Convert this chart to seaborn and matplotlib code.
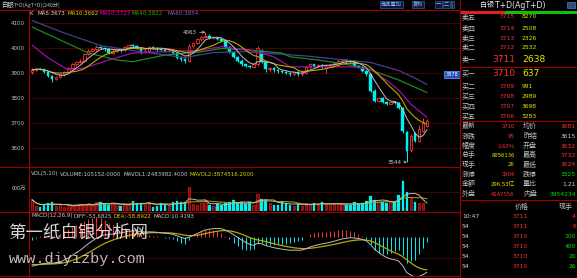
import numpy as np
import pandas as pd
import matplotlib
matplotlib.use("Agg")
import matplotlib.pyplot as plt
from matplotlib.patches import Rectangle
import seaborn as sns

# ---------------- data ----------------
opens = [3905, 3912, 3918, 3915, 3905, 3890, 3878, 3885, 3895, 3905,
         3920, 3935, 3945, 3950, 3978, 3990, 3995, 4005, 4000, 3998,
         3980, 3990, 3995, 3992, 4005, 4012, 4008, 4000, 3985, 3990,
         4005, 4000, 3995, 3992, 3990, 3992, 3980, 3962, 3955, 3950,
         4010, 4020, 4035, 4045, 4050, 4040, 4042, 4038, 4030, 4005,
         3985, 3965, 3950, 3935, 3930, 3925, 3935, 3990, 3945, 3915,
         3920, 3912, 3910, 3905, 3900, 3898, 3905, 3895, 3900, 3925,
         3935, 3930, 3932, 3920, 3930, 3935, 3940, 3950, 3952, 3948,
         3945, 3930, 3925, 3910, 3895, 3830, 3790, 3800, 3785, 3778,
         3785, 3780, 3760, 3665, 3592, 3660, 3630, 3670, 3690]
highs = [3920, 3922, 3922, 3918, 3908, 3892, 3890, 3898, 3908, 3925,
         3940, 3950, 3955, 3982, 3995, 4000, 4012, 4010, 4005, 4000,
         3995, 4000, 3998, 4010, 4018, 4015, 4012, 4002, 3995, 4010,
         4008, 4003, 3998, 3995, 3998, 3995, 3982, 3965, 3960, 4015,
         4025, 4040, 4050, 4063, 4055, 4048, 4045, 4040, 4032, 4008,
         3988, 3968, 3955, 3938, 3933, 3940, 4010, 3995, 3948, 3925,
         3924, 3916, 3914, 3908, 3904, 3910, 3908, 3905, 3930, 3940,
         3938, 3936, 3935, 3935, 3938, 3945, 3955, 3958, 3955, 3950,
         3948, 3933, 3928, 3912, 3898, 3835, 3805, 3803, 3790, 3790,
         3790, 3785, 3765, 3668, 3655, 3664, 3692, 3720, 3715]
lows = [3895, 3908, 3912, 3900, 3885, 3865, 3872, 3880, 3890, 3900,
        3915, 3930, 3940, 3945, 3972, 3985, 3990, 3995, 3990, 3975,
        3975, 3985, 3985, 3988, 4000, 4002, 3995, 3978, 3980, 3985,
        3995, 3990, 3988, 3985, 3985, 3975, 3955, 3948, 3940, 3945,
        4005, 4015, 4030, 4040, 4035, 4035, 4032, 4025, 4000, 3980,
        3960, 3945, 3930, 3925, 3920, 3920, 3930, 3940, 3905, 3910,
        3905, 3902, 3900, 3895, 3890, 3892, 3890, 3890, 3895, 3920,
        3925, 3925, 3922, 3900, 3925, 3930, 3935, 3945, 3942, 3940,
        3925, 3920, 3905, 3890, 3825, 3785, 3785, 3780, 3772, 3775,
        3778, 3758, 3660, 3544, 3585, 3624, 3624, 3664, 3685]
closes = [3912, 3918, 3915, 3905, 3890, 3878, 3885, 3895, 3905, 3920,
          3935, 3945, 3950, 3978, 3990, 3995, 4005, 4000, 3998, 3980,
          3990, 3995, 3992, 4005, 4012, 4008, 4000, 3985, 3990, 4005,
          4000, 3995, 3992, 3990, 3992, 3980, 3962, 3955, 3950, 4010,
          4020, 4035, 4045, 4050, 4040, 4042, 4038, 4030, 4005, 3985,
          3965, 3950, 3935, 3930, 3925, 3935, 4000, 3945, 3915, 3920,
          3912, 3910, 3905, 3900, 3898, 3905, 3895, 3900, 3925, 3935,
          3930, 3932, 3928, 3930, 3935, 3940, 3950, 3952, 3948, 3945,
          3930, 3925, 3910, 3895, 3830, 3790, 3800, 3785, 3778, 3785,
          3782, 3762, 3670, 3590, 3650, 3630, 3675, 3700, 3710]
volumes_m = [3.6, 1.5, 1.2, 2.0, 2.5, 2.8, 1.6, 1.8, 1.2, 2.2,
             1.5, 2.0, 2.3, 1.8, 2.5, 1.6, 2.8, 3.0, 2.2, 1.9,
             2.6, 2.4, 1.5, 2.0, 1.8, 3.1, 2.5, 2.6, 2.0, 3.0,
             1.4, 1.7, 2.5, 2.0, 1.6, 2.8, 3.2, 2.7, 2.9, 7.6,
             2.2, 1.8, 2.6, 3.4, 2.0, 1.5, 2.2, 1.8, 2.4, 2.9,
             3.5, 2.6, 2.8, 2.4, 3.0, 2.0, 5.5, 3.8, 3.6, 2.5,
             2.0, 1.8, 3.1, 2.4, 2.0, 1.6, 2.3, 1.7, 2.6, 1.8,
             2.5, 2.0, 3.0, 2.2, 1.8, 2.6, 2.1, 2.4, 2.0, 1.9,
             2.8, 2.2, 2.5, 3.2, 4.8, 3.4, 2.9, 3.0, 2.6, 2.8,
             2.8, 5.2, 9.5, 6.0, 4.2, 3.0, 2.6, 2.5, 0.105]

ma20_i = [0, 4, 9, 13, 19, 25, 33, 42, 47, 54, 60, 64, 72, 79, 84, 88, 91, 94, 98]
ma20_v = [4012, 3960, 3912, 3920, 3952, 3980, 3985, 3992, 4005, 3992, 3965, 3925, 3925, 3925, 3915, 3870, 3832, 3775, 3723]
ma40_i = [0, 7, 14, 21, 25, 33, 42, 47, 54, 62, 64, 71, 79, 84, 91, 98]
ma40_v = [4084, 4032, 3980, 3952, 3945, 3972, 3985, 3998, 3992, 3980, 3965, 3952, 3932, 3912, 3872, 3822]
ma60_i = [0, 8, 17, 27, 33, 38, 45, 53, 62, 68, 76, 84, 91, 95, 98]
ma60_v = [4110, 4060, 4010, 3985, 3972, 3962, 3982, 3985, 3975, 3968, 3955, 3942, 3910, 3880, 3854]

ema_seeds = {"ema12": 3950.0, "ema26": 4005.0, "dea": -50.0}

price_ticks = [3600, 3700, 3800, 3900, 4000, 4100]
high_mark, low_mark = "4063", "3544"

ma_legend = [("K", "#c8c8c8", 30), ("MA5:3673", "#d8d8d8", 38), ("MA10:3662", "#d8d800", 67),
             ("MA20:3723", "#e000e0", 100), ("MA40:3822", "#00c000", 132), ("MA60:3854", "#6a6ae0", 167)]
vol_legend = [("VOL(5,10)", "#c8c8c8", 31), ("VOLUME:105152.0000", "#c8c8c8", 60),
              ("MAVOL1:2483982.4000", "#c8c8c8", 123), ("MAVOL2:3874516.2000", "#d8d800", 189)]
macd_legend = [("MACD(12,26,9)", "#c8c8c8", 31), ("DIFF:-53.6825", "#c8c8c8", 73),
               ("DEA:-58.8922", "#d8d800", 113), ("MACD:10.4193", "#c8c8c8", 153)]

ask_labels = ["卖五", "卖四", "卖三", "卖二", "卖一"]
ask_prices = ["3715", "3714", "3713", "3712", "3711"]
ask_vols = ["8270", "2508", "2326", "2532", "2638"]
bid_labels = ["买一", "买二", "买三", "买四", "买五"]
bid_prices = ["3710", "3709", "3708", "3707", "3706"]
bid_vols = ["637", "991", "2989", "3698", "3283"]

stat_l_labels = ["最新", "涨跌", "幅度", "总手", "现手", "涨停", "金额", "外盘"]
stat_l_values = ["3710", "95", "2.63%", "8056136", "26", "3904", "296.53亿", "4147556"]
stat_l_colors = ["#ff3232", "#ff3232", "#ff3232", "#e8e800", "#e8e800", "#ff3232", "#e8e800", "#ff3232"]
stat_r_labels = ["均价", "昨结", "开盘", "最高", "最低", "跌停", "量比", "内盘"]
stat_r_values = ["3681", "3615", "3632", "3732", "3624", "3325", "1.21", "3954234"]
stat_r_colors = ["#ff3232", "#d0d0d0", "#ff3232", "#ff3232", "#ff3232", "#00e000", "#d0d0d0", "#00e000"]

trade_times = ["10:47", "54", "54", "54", "54", "54"]
trade_prices = ["3711", "3711", "3710", "3710", "3710", "3710"]
trade_vols = ["4", "6", "100", "400", "20", "26"]
trade_colors = ["#ff3232", "#ff3232", "#00e000", "#00e000", "#00e000", "#00e000"]

# ---------------- style ----------------
sns.set_theme(style="dark")
plt.rcParams['font.family'] = ['DejaVu Sans']
CJK = ['Noto Sans CJK SC', 'DejaVu Sans']
RED = "#ff3232"
CYAN = "#00f0f0"
FRAME = "#a00000"
GRID = "#4a0000"
GRAY = "#c0c0c0"

W, H = 577, 278
fig = plt.figure(figsize=(W / 100, H / 100), dpi=100, facecolor="black")


def px_axes(x0, y0, x1, y1, z=1):
    a = fig.add_axes([x0 / W, 1 - y1 / H, (x1 - x0) / W, (y1 - y0) / H], zorder=z)
    a.set_facecolor("black")
    a.grid(False)
    for s in a.spines.values():
        s.set_visible(False)
    a.set_xticks([])
    a.set_yticks([])
    a.set_xlabel("")
    a.set_ylabel("")
    return a


df = pd.DataFrame({"i": np.arange(len(closes)), "open": opens, "high": highs,
                   "low": lows, "close": closes, "vol": volumes_m})
df["dir"] = np.where(df["close"] >= df["open"], "up", "down")
df["ma5"] = df["close"].rolling(5, min_periods=1).mean()
df["ma10"] = df["close"].rolling(10, min_periods=1).mean()
df["mavol5"] = df["vol"].rolling(5, min_periods=1).mean()
df["mavol10"] = df["vol"].rolling(10, min_periods=1).mean()

e12, e26, dea = ema_seeds["ema12"], ema_seeds["ema26"], ema_seeds["dea"]
diffs, deas = [], []
for c in closes:
    e12 = e12 + 2 / 13 * (c - e12)
    e26 = e26 + 2 / 27 * (c - e26)
    d = e12 - e26
    dea = dea + 2 / 10 * (d - dea)
    diffs.append(d)
    deas.append(dea)
df["diff"] = diffs
df["dea"] = deas
df["macd"] = 2 * (df["diff"] - df["dea"])

SP = 4.03
XL = (-3 / SP, -3 / SP + 431 / SP)

# ---------------- main candle panel ----------------
ax = px_axes(29, 10, 460, 167)
ax.set_xlim(*XL)
ax.set_ylim(3524, 4152)
for t in price_ticks:
    ax.axhline(t, color=GRID, lw=0.7, zorder=0)
ax.set_yticks(price_ticks)
ax.set_yticklabels([str(t) for t in price_ticks])
ax.tick_params(axis="y", length=0, pad=3, labelsize=4.0, labelcolor=GRAY)

for r in df.itertuples():
    col = RED if r.dir == "up" else CYAN
    ax.vlines(r.i, r.low, r.high, color=col, lw=0.7, zorder=2)
    lo, hi = min(r.open, r.close), max(r.open, r.close)
    h = max(hi - lo, 1.0)
    if r.dir == "up":
        ax.add_patch(Rectangle((r.i - 0.32, lo), 0.64, h, facecolor="black", edgecolor=col, lw=0.6, zorder=3))
    else:
        ax.add_patch(Rectangle((r.i - 0.32, lo), 0.64, h, facecolor=col, edgecolor=col, lw=0.3, zorder=3))

sns.lineplot(x=ma60_i, y=ma60_v, color="#42428e", lw=0.9, ax=ax, zorder=4)
sns.lineplot(x=ma40_i, y=ma40_v, color="#1c8a1c", lw=0.9, ax=ax, zorder=4)
sns.lineplot(x=ma20_i, y=ma20_v, color="#a010a0", lw=0.9, ax=ax, zorder=4)
sns.lineplot(data=df, x="i", y="ma10", color="#b8a800", lw=0.8, ax=ax, zorder=5)
sns.lineplot(data=df, x="i", y="ma5", color="#bdbdbd", lw=0.7, ax=ax, zorder=5)
ax.set_xlim(*XL)
ax.set_ylim(3524, 4152)
ax.set_xlabel("")
ax.set_ylabel("")
ax.set_xticks([])

ih = int(np.argmax(highs))
il = int(np.argmin(lows))
arrow = dict(arrowstyle="->", color="#d0d0d0", lw=0.5, shrinkA=0, shrinkB=0)
ax.annotate(high_mark, xy=(ih, highs[ih]), xytext=(-9, 0), textcoords="offset pixels",
            ha="right", va="center", fontsize=4.0, color="#d0d0d0", arrowprops=arrow, zorder=6)
ax.annotate(low_mark, xy=(il, lows[il]), xytext=(-5, 0), textcoords="offset pixels",
            ha="right", va="center", fontsize=4.0, color="#d0d0d0", arrowprops=arrow, zorder=6)

# ---------------- volume panel ----------------
axv = px_axes(29, 167, 460, 211)
sns.barplot(data=df, x="i", y="vol", hue="dir", hue_order=["up", "down"],
            palette={"up": "#7a0808", "down": CYAN}, dodge=False, native_scale=True,
            width=0.62, errorbar=None, legend=False, saturation=1, ax=axv)
for p in axv.patches:
    fc = p.get_facecolor()
    if fc[0] > 0.3 and fc[1] < 0.2:
        p.set_edgecolor("#d02020")
        p.set_linewidth(0.5)
    else:
        p.set_edgecolor(CYAN)
        p.set_linewidth(0.2)
sns.lineplot(data=df, x="i", y="mavol10", color="#b8a800", lw=0.7, ax=axv, zorder=5)
sns.lineplot(data=df, x="i", y="mavol5", color="#bdbdbd", lw=0.7, ax=axv, zorder=5)
axv.axhline(6.0, color=GRID, lw=0.7, zorder=0)
axv.set_xlim(*XL)
axv.set_ylim(0, 13.9)
axv.set_xticks([])
axv.set_yticks([])
axv.set_xlabel("")
axv.set_ylabel("")

# ---------------- MACD panel ----------------
axm = px_axes(29, 212, 460, 276)
S = 1.85
axm.set_xlim(*XL)
axm.set_ylim(-39 * S, 25 * S)
axm.axhline(-21 * S, color=GRID, lw=0.7, zorder=0)
mcol = [RED if v >= 0 else CYAN for v in df["macd"]]
axm.vlines(df["i"], 0, df["macd"], colors=mcol, lw=0.7, zorder=2)
sns.lineplot(data=df, x="i", y="dea", color="#b8a800", lw=0.9, ax=axm, zorder=4)
sns.lineplot(data=df, x="i", y="diff", color="#bdbdbd", lw=0.7, ax=axm, zorder=4)
axm.set_xlim(*XL)
axm.set_ylim(-39 * S, 25 * S)
axm.set_xticks([])
axm.set_yticks([])
axm.set_xlabel("")
axm.set_ylabel("")

# ---------------- overlay (frame, texts, quote board) ----------------
ov = fig.add_axes([0, 0, 1, 1], zorder=10)
ov.set_xlim(0, W)
ov.set_ylim(H, 0)
ov.axis("off")
ov.patch.set_alpha(0)

for y in (10, 167, 212, 276):
    ov.plot([0, 460], [y, y], color=FRAME, lw=0.8)
ov.plot([29, 29], [10, H], color=FRAME, lw=0.8)
ov.plot([460, 460], [0, H], color=FRAME, lw=0.8)
for y in (66.5, 121, 199.5):
    ov.plot([460, W], [y, y], color=FRAME, lw=0.8)
ov.add_patch(Rectangle((460, 11), 45, 2.5, facecolor="#e02020", edgecolor="none"))
ov.add_patch(Rectangle((505, 11), 72, 2.5, facecolor="#10c010", edgecolor="none"))

# title
ov.text(1, 5, "白银", fontsize=4.6, color="#e0e0e0", family=CJK, va="center")
ov.text(14, 5, "T+D(AgT+D)(240分)", fontsize=3.8, color=GRAY, family=CJK, va="center")
# buttons top
ov.text(381, 4.5, "商品叠加", fontsize=3.8, color="#9ab8ff", family=CJK, va="center",
        bbox=dict(boxstyle="square,pad=0.15", fc="#0a1a3a", ec="#3a5a9a", lw=0.5))
ov.text(413, 4.5, "复权", fontsize=3.8, color="#9ab8ff", family=CJK, va="center",
        bbox=dict(boxstyle="square,pad=0.15", fc="#0a1a3a", ec="#3a5a9a", lw=0.5))
for xb, tb in zip((436, 444, 452), ("一", "二", "|")):
    ov.text(xb, 4.5, tb, fontsize=3.8, color="#9ab8ff", family=CJK, va="center",
            bbox=dict(boxstyle="square,pad=0.15", fc="#0a1a3a", ec="#3a5a9a", lw=0.5))

for txt, col, x in ma_legend:
    ov.text(x, 13.5, txt, fontsize=4.0, color=col, va="center")
for txt, col, x in vol_legend:
    ov.text(x, 174, txt, fontsize=4.0, color=col, va="center")
for txt, col, x in macd_legend:
    ov.text(x, 216, txt, fontsize=4.0, color=col, va="center")
ov.text(26, 188, "600万", fontsize=4.0, color=GRAY, family=CJK, ha="right", va="center")

# price box
ov.add_patch(Rectangle((444, 70.5), 15.5, 7, facecolor="#2050d0", edgecolor="#a0c0ff", lw=0.4))
ov.text(451.8, 74, "3878", fontsize=3.6, color="white", ha="center", va="center")

# quote board header
ov.text(480, 5, "白银", fontsize=5.0, color="#e8e8e8", family=CJK, va="center")
ov.text(495, 5, "T+D(AgT+D)", fontsize=5.6, color="#e8e8e8", va="center")
ov.add_patch(Rectangle((567, 2), 8, 6, facecolor="#2a4a8a", edgecolor="#7090c0", lw=0.4))

ask_y = [17, 28, 38, 47.5, 59]
bid_y = [73.5, 86, 96, 106, 116]
for k in range(5):
    big = k == 4
    ov.text(462, ask_y[k], ask_labels[k], fontsize=5.0, color=GRAY, family=CJK, va="center")
    ov.text(515, ask_y[k], ask_prices[k], fontsize=6.6 if big else 4.3, color=RED, ha="right", va="center")
    ov.text(522, ask_y[k], ask_vols[k], fontsize=6.6 if big else 4.3, color="#e8e800", va="center")
for k in range(5):
    big = k == 0
    ov.text(462, bid_y[k], bid_labels[k], fontsize=5.0, color=GRAY, family=CJK, va="center")
    ov.text(515, bid_y[k], bid_prices[k], fontsize=6.6 if big else 4.3, color=RED, ha="right", va="center")
    ov.text(522, bid_y[k], bid_vols[k], fontsize=6.6 if big else 4.3, color="#e8e800", va="center")

stat_y = [126, 136, 146, 155.5, 165, 174.5, 184, 194]
for k in range(8):
    ov.text(462, stat_y[k], stat_l_labels[k], fontsize=5.0, color=GRAY, family=CJK, va="center")
    ov.text(515, stat_y[k], stat_l_values[k], fontsize=4.3, color=stat_l_colors[k], family=CJK, ha="right", va="center")
    ov.text(523, stat_y[k], stat_r_labels[k], fontsize=5.0, color=GRAY, family=CJK, va="center")
    ov.text(576, stat_y[k], stat_r_values[k], fontsize=4.3, color=stat_r_colors[k], ha="right", va="center")

ov.text(522, 207, "价格", fontsize=5.0, color=GRAY, family=CJK, ha="center", va="center")
ov.text(566, 207, "现手", fontsize=5.0, color=GRAY, family=CJK, ha="center", va="center")
trade_y = [217, 227, 237, 247, 257, 267]
for k in range(6):
    ov.text(462, trade_y[k], trade_times[k], fontsize=4.3, color="#d8d8d8", va="center")
    ov.text(528, trade_y[k], trade_prices[k], fontsize=4.3, color=RED, ha="right", va="center")
    ov.text(576, trade_y[k], trade_vols[k], fontsize=4.3, color=trade_colors[k], ha="right", va="center")

# watermark
ov.text(8, 233, "第一纸白银分析网", fontsize=12.6, color="#ececec", alpha=0.9, family=CJK,
        fontweight="light", va="center")
ov.text(9, 259, "www.diyizby.com", fontsize=11, color="#cfcfcf", alpha=0.9,
        family=["Liberation Mono", "DejaVu Sans Mono"], va="center")

fig.savefig("out.png", dpi=100, facecolor="black")
